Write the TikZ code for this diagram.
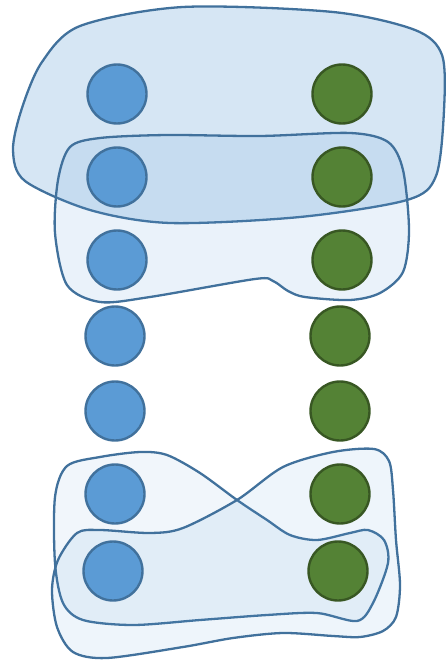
\documentclass[tikz,border=0pt]{standalone}
\definecolor{bluefill}{HTML}{5B9BD5}
\definecolor{bluedraw}{HTML}{41719C}
\definecolor{greenfill}{HTML}{548235}
\definecolor{greendraw}{HTML}{385723}
\definecolor{blobdraw}{HTML}{41719C}
\tikzset{
  bnode/.style={circle, minimum size=59pt, inner sep=0pt, fill=bluefill, draw=bluedraw, line width=2.4pt},
  gnode/.style={circle, minimum size=59pt, inner sep=0pt, fill=greenfill, draw=greendraw, line width=2.4pt},
  blob/.style={draw=blobdraw, line width=2.3pt, fill=bluefill, fill opacity=#1, line join=round},
}
\begin{document}
\begin{tikzpicture}[x=1pt, y=-1pt]
\useasboundingbox (0,0) rectangle (447,663);

% upper groups
\draw[blob=0.25] plot[smooth cycle] coordinates {
  (13,150) (22,108) (42,62) (80,26) (183,7) (333,12) (415,30) (442,55)
  (444,110) (436,176) (407,200) (300,217) (170,223) (90,210) (25,181)};
\draw[blob=0.13] plot[smooth cycle] coordinates {
  (70,147) (100,138) (167,135) (260,136) (350,133) (388,142) (403,170)
  (409,230) (403,272) (380,293) (350,300) (305,297) (288,291) (273,281)
  (255,279) (150,297) (100,302) (67,285) (55,233) (58,180)};

% lower groups
\draw[blob=0.085] plot[smooth cycle] coordinates {
  (67,466) (100,457) (140,452) (167,455) (200,473) (237,500) (267,520)
  (290,535) (317,540) (350,533) (368,530) (384,540) (388,563)
  (373,603) (357,621) (317,613) (267,615) (200,620) (133,625)
  (83,620) (63,603) (55,563) (55,497)};
\draw[blob=0.1] plot[smooth cycle] coordinates {
  (374,449) (389,461) (393,490) (396,540) (400,585) (396,617) (383,631)
  (360,637) (333,636) (283,633) (233,638) (183,647) (107,658) (73,652)
  (57,627) (52,590) (58,560) (77,533) (100,530) (150,533) (183,528)
  (237,500) (283,467) (333,452)};

% left column
\node[bnode] (l1) at (117,94) {};
\node[bnode] (l2) at (117,177) {};
\node[bnode] (l3) at (117,260) {};
\node[bnode] (l4) at (115,336) {};
\node[bnode] (l5) at (115,411) {};
\node[bnode] (l6) at (115,494) {};
\node[bnode] (l7) at (113,571) {};

% right column
\node[gnode] (r1) at (342,94) {};
\node[gnode] (r2) at (342,177) {};
\node[gnode] (r3) at (342,260) {};
\node[gnode] (r4) at (340,336) {};
\node[gnode] (r5) at (340,411) {};
\node[gnode] (r6) at (340,494) {};
\node[gnode] (r7) at (338,571) {};
\end{tikzpicture}
\end{document}
